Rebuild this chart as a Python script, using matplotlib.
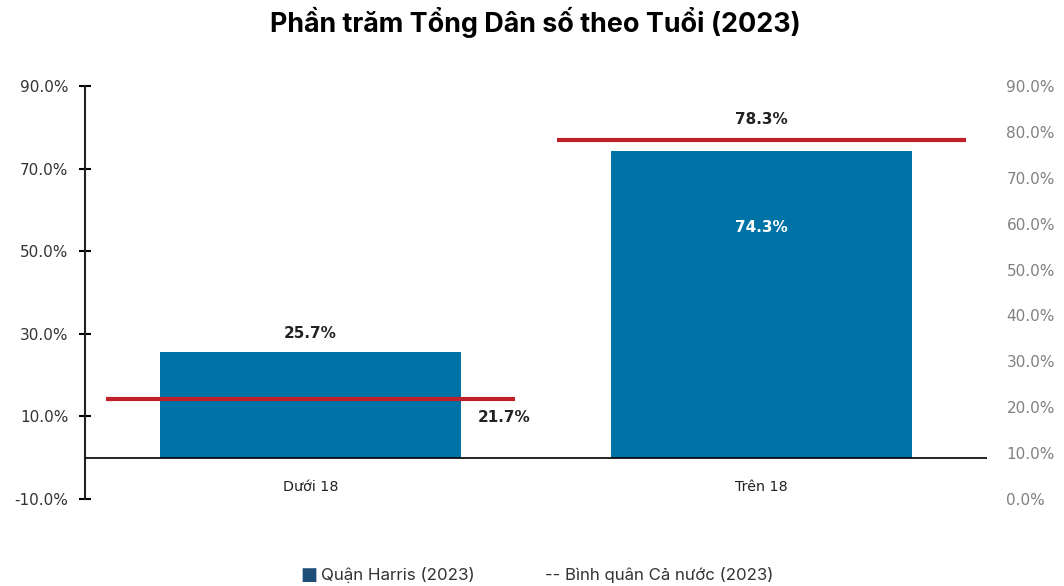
import matplotlib
matplotlib.use('Agg')
import matplotlib.pyplot as plt
from matplotlib.ticker import FuncFormatter

plt.rcParams['font.family'] = ['DejaVu Sans']

categories = ['Dưới 18', 'Trên 18']
harris = [25.7, 74.3]
national = [21.7, 78.3]
left_ticks = [-10, 10, 30, 50, 70, 90]
right_ticks = [0, 10, 20, 30, 40, 50, 60, 70, 80, 90]

barColor = '#0073a6'
lineColor = '#c0202a'

fig = plt.figure(figsize=(10.64, 5.86), dpi=100)
ax = fig.add_axes([0.0799, 0.1485, 0.8477, 0.7047])

x = list(range(len(categories)))
ax.bar(x, harris, width=0.666, color=barColor, zorder=2)
ax.axhline(0, color='black', linewidth=1.2, zorder=3)
ax.set_xlim(-0.5, 1.5)
ax.set_ylim(-10, 90)
ax.set_yticks(left_ticks)
ax.yaxis.set_major_formatter(FuncFormatter(lambda v, p: '{:.1f}%'.format(v)))
ax.tick_params(axis='y', direction='inout', length=8, width=1.5, pad=8,
               labelsize=11, labelcolor='#333333')
ax.set_xticks([])
for i, c in enumerate(categories):
    ax.text(i, -7, c, ha='center', va='center', fontsize=10.3, color='#222222')
for s in ['top', 'right', 'bottom']:
    ax.spines[s].set_visible(False)
ax.spines['left'].set_linewidth(1.5)
ax.spines['left'].set_color('#222222')

ax2 = ax.twinx()
ax2.set_ylim(0, 90)
ax2.set_yticks(right_ticks)
ax2.yaxis.set_major_formatter(FuncFormatter(lambda v, p: '{:.1f}%'.format(v)))
ax2.tick_params(axis='y', length=0, pad=14, labelsize=11, labelcolor='#808080')
for s in ['top', 'right', 'bottom', 'left']:
    ax2.spines[s].set_visible(False)

for i, v in enumerate(national):
    ax2.plot([i - 0.453, i + 0.453], [v, v], color=lineColor, linewidth=3, zorder=4,
             solid_capstyle='butt')

# labels
ax.text(0, harris[0] + 2.5, '{:.1f}%'.format(harris[0]), ha='center', va='bottom',
        fontsize=11, fontweight='bold', color='#222222')
ax.text(1, harris[1] - 18.5, '{:.1f}%'.format(harris[1]), ha='center', va='center',
        fontsize=11, fontweight='bold', color='white')
ax2.text(0.37, national[0] - 2.3, '{:.1f}%'.format(national[0]), ha='left', va='top',
         fontsize=11, fontweight='bold', color='#222222')
ax2.text(1, national[1] + 2.8, '{:.1f}%'.format(national[1]), ha='center', va='bottom',
         fontsize=11, fontweight='bold', color='#222222')

fig.text(0.503, 0.962, 'Phần trăm Tổng Dân số theo Tuổi (2023)', ha='center', va='center',
         fontsize=19.4, fontweight='bold', family=['Inter', 'DejaVu Sans'])

# legend
fig.text(0.282, 0.019, '■', ha='left', va='center', fontsize=13, color='#1f4e79')
fig.text(0.302, 0.019, 'Quận Harris (2023)', ha='left', va='center', fontsize=12.2,
         color='#333333', family=['Inter', 'DejaVu Sans'])
fig.text(0.512, 0.019, '-- Bình quân Cả nước (2023)', ha='left', va='center', fontsize=12.1,
         color='#333333', family=['Inter', 'DejaVu Sans'])

fig.savefig('out.png', dpi=100)
